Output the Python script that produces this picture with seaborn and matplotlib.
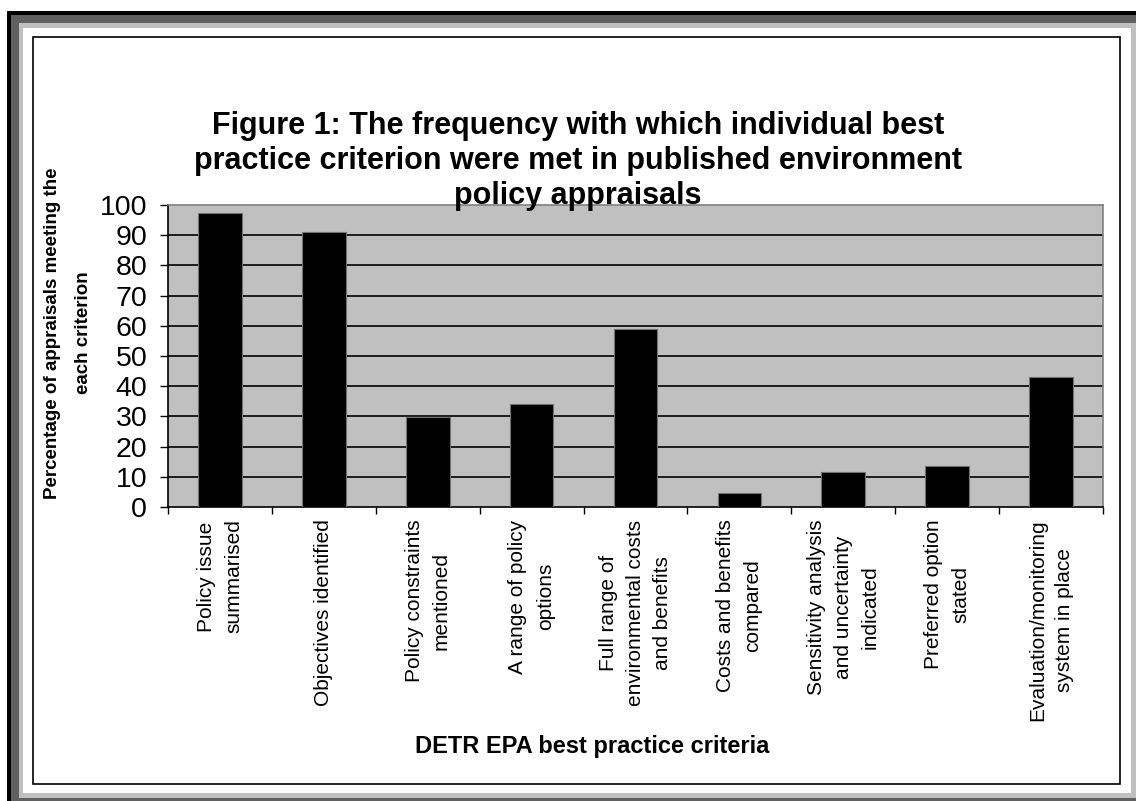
import matplotlib
matplotlib.use("Agg")
import matplotlib.pyplot as plt
import seaborn as sns
import pandas as pd
from matplotlib.patches import Rectangle

categories = [
    "Policy issue\nsummarised",
    "Objectives identified",
    "Policy constraints\nmentioned",
    "A range of policy\noptions",
    "Full range of\nenvironmental costs\nand benefits",
    "Costs and benefits\ncompared",
    "Sensitivity analysis\nand uncertainty\nindicated",
    "Preferred option\nstated",
    "Evaluation/monitoring\nsystem in place",
]
values = [97.5, 91.0, 29.7, 34.1, 59.0, 4.7, 11.7, 13.7, 43.1]
y_ticks = [0, 10, 20, 30, 40, 50, 60, 70, 80, 90, 100]

title = ("Figure 1: The frequency with which individual best\n"
         "practice criterion were met in published environment\n"
         "policy appraisals")
x_label = "DETR EPA best practice criteria"
y_label = "Percentage of appraisals meeting the\neach criterion"

sns.set_style("white")
plt.rcParams['font.family'] = ['Liberation Sans', 'DejaVu Sans']
plt.rcParams['text.color'] = 'black'
plt.rcParams['xtick.color'] = 'black'
plt.rcParams['ytick.color'] = 'black'
plt.rcParams['axes.labelcolor'] = 'black'

W, H = 1136, 801
fig = plt.figure(figsize=(W / 100, H / 100), dpi=100)
fig.patch.set_facecolor("white")


def box(x0, y0, x1, y1, **kw):
    # pixel coords measured from the top-left
    r = Rectangle((x0 / W, 1 - y1 / H), (x1 - x0) / W, (y1 - y0) / H,
                  transform=fig.transFigure, **kw)
    fig.add_artist(r)


# framed border
box(7, 11, 1140, 805, facecolor="black", edgecolor="none", zorder=0)
box(11, 15, 1140, 805, facecolor="#606060", edgecolor="none", zorder=0)
box(19, 23, 1136, 798, facecolor="#c0c0c0", edgecolor="none", zorder=0)
box(23, 28, 1131, 793, facecolor="white", edgecolor="none", zorder=0)
box(33, 37, 1119.5, 783.5, facecolor="none", edgecolor="black", linewidth=1.2, zorder=1)

ax_l, ax_r, ax_t, ax_b = 168, 1103, 205, 507
ax = fig.add_axes([ax_l / W, 1 - ax_b / H, (ax_r - ax_l) / W, (ax_b - ax_t) / H])
ax.set_facecolor("#c0c0c0")

df = pd.DataFrame({"criterion": categories, "value": values})
sns.barplot(data=df, x="criterion", y="value", color="black", width=0.42,
            edgecolor="#707070", linewidth=0.8, saturation=1, ax=ax, zorder=3)

ax.set_ylim(0, 100)
ax.set_xlim(-0.5, len(categories) - 0.5)
ax.set_yticks(y_ticks)
ax.set_yticklabels([str(v) for v in y_ticks], fontsize=20.5)
for v in y_ticks[1:-1]:
    ax.axhline(v, color="black", linewidth=1.2, zorder=1)

ax.tick_params(axis="y", which="major", direction="out", length=6, width=1,
               color="black", pad=9, left=True, labelcolor="black")
ax.set_xticks(range(len(categories)))
ax.set_xticklabels(categories, rotation=90, fontsize=15, va="top", ha="center",
                   multialignment="center", linespacing=1.55)
ax.tick_params(axis="x", which="major", length=0, pad=9, labelcolor="black")
ax.set_xticks([i - 0.5 for i in range(len(categories) + 1)], minor=True)
ax.tick_params(axis="x", which="minor", direction="out", length=5, width=1,
               color="black", bottom=True)

for side in ["top", "right"]:
    ax.spines[side].set_color("#808080")
    ax.spines[side].set_linewidth(1.2)
for side in ["left", "bottom"]:
    ax.spines[side].set_color("black")
    ax.spines[side].set_linewidth(1.2)

ax.set_xlabel("")
ax.set_ylabel("")

fig.text(578 / W, 1 - 161 / H, title, ha="center", va="center", fontsize=22,
         fontweight="bold", linespacing=1.2, color="black")
fig.text(592 / W, 1 - 747 / H, x_label, ha="center", va="center", fontsize=17,
         fontweight="bold", color="black")
fig.text(68 / W, 1 - 333 / H, y_label, ha="center", va="center", fontsize=13.5,
         fontweight="bold", rotation=90, linespacing=2.0, color="black")

fig.savefig("out.png", dpi=100)
